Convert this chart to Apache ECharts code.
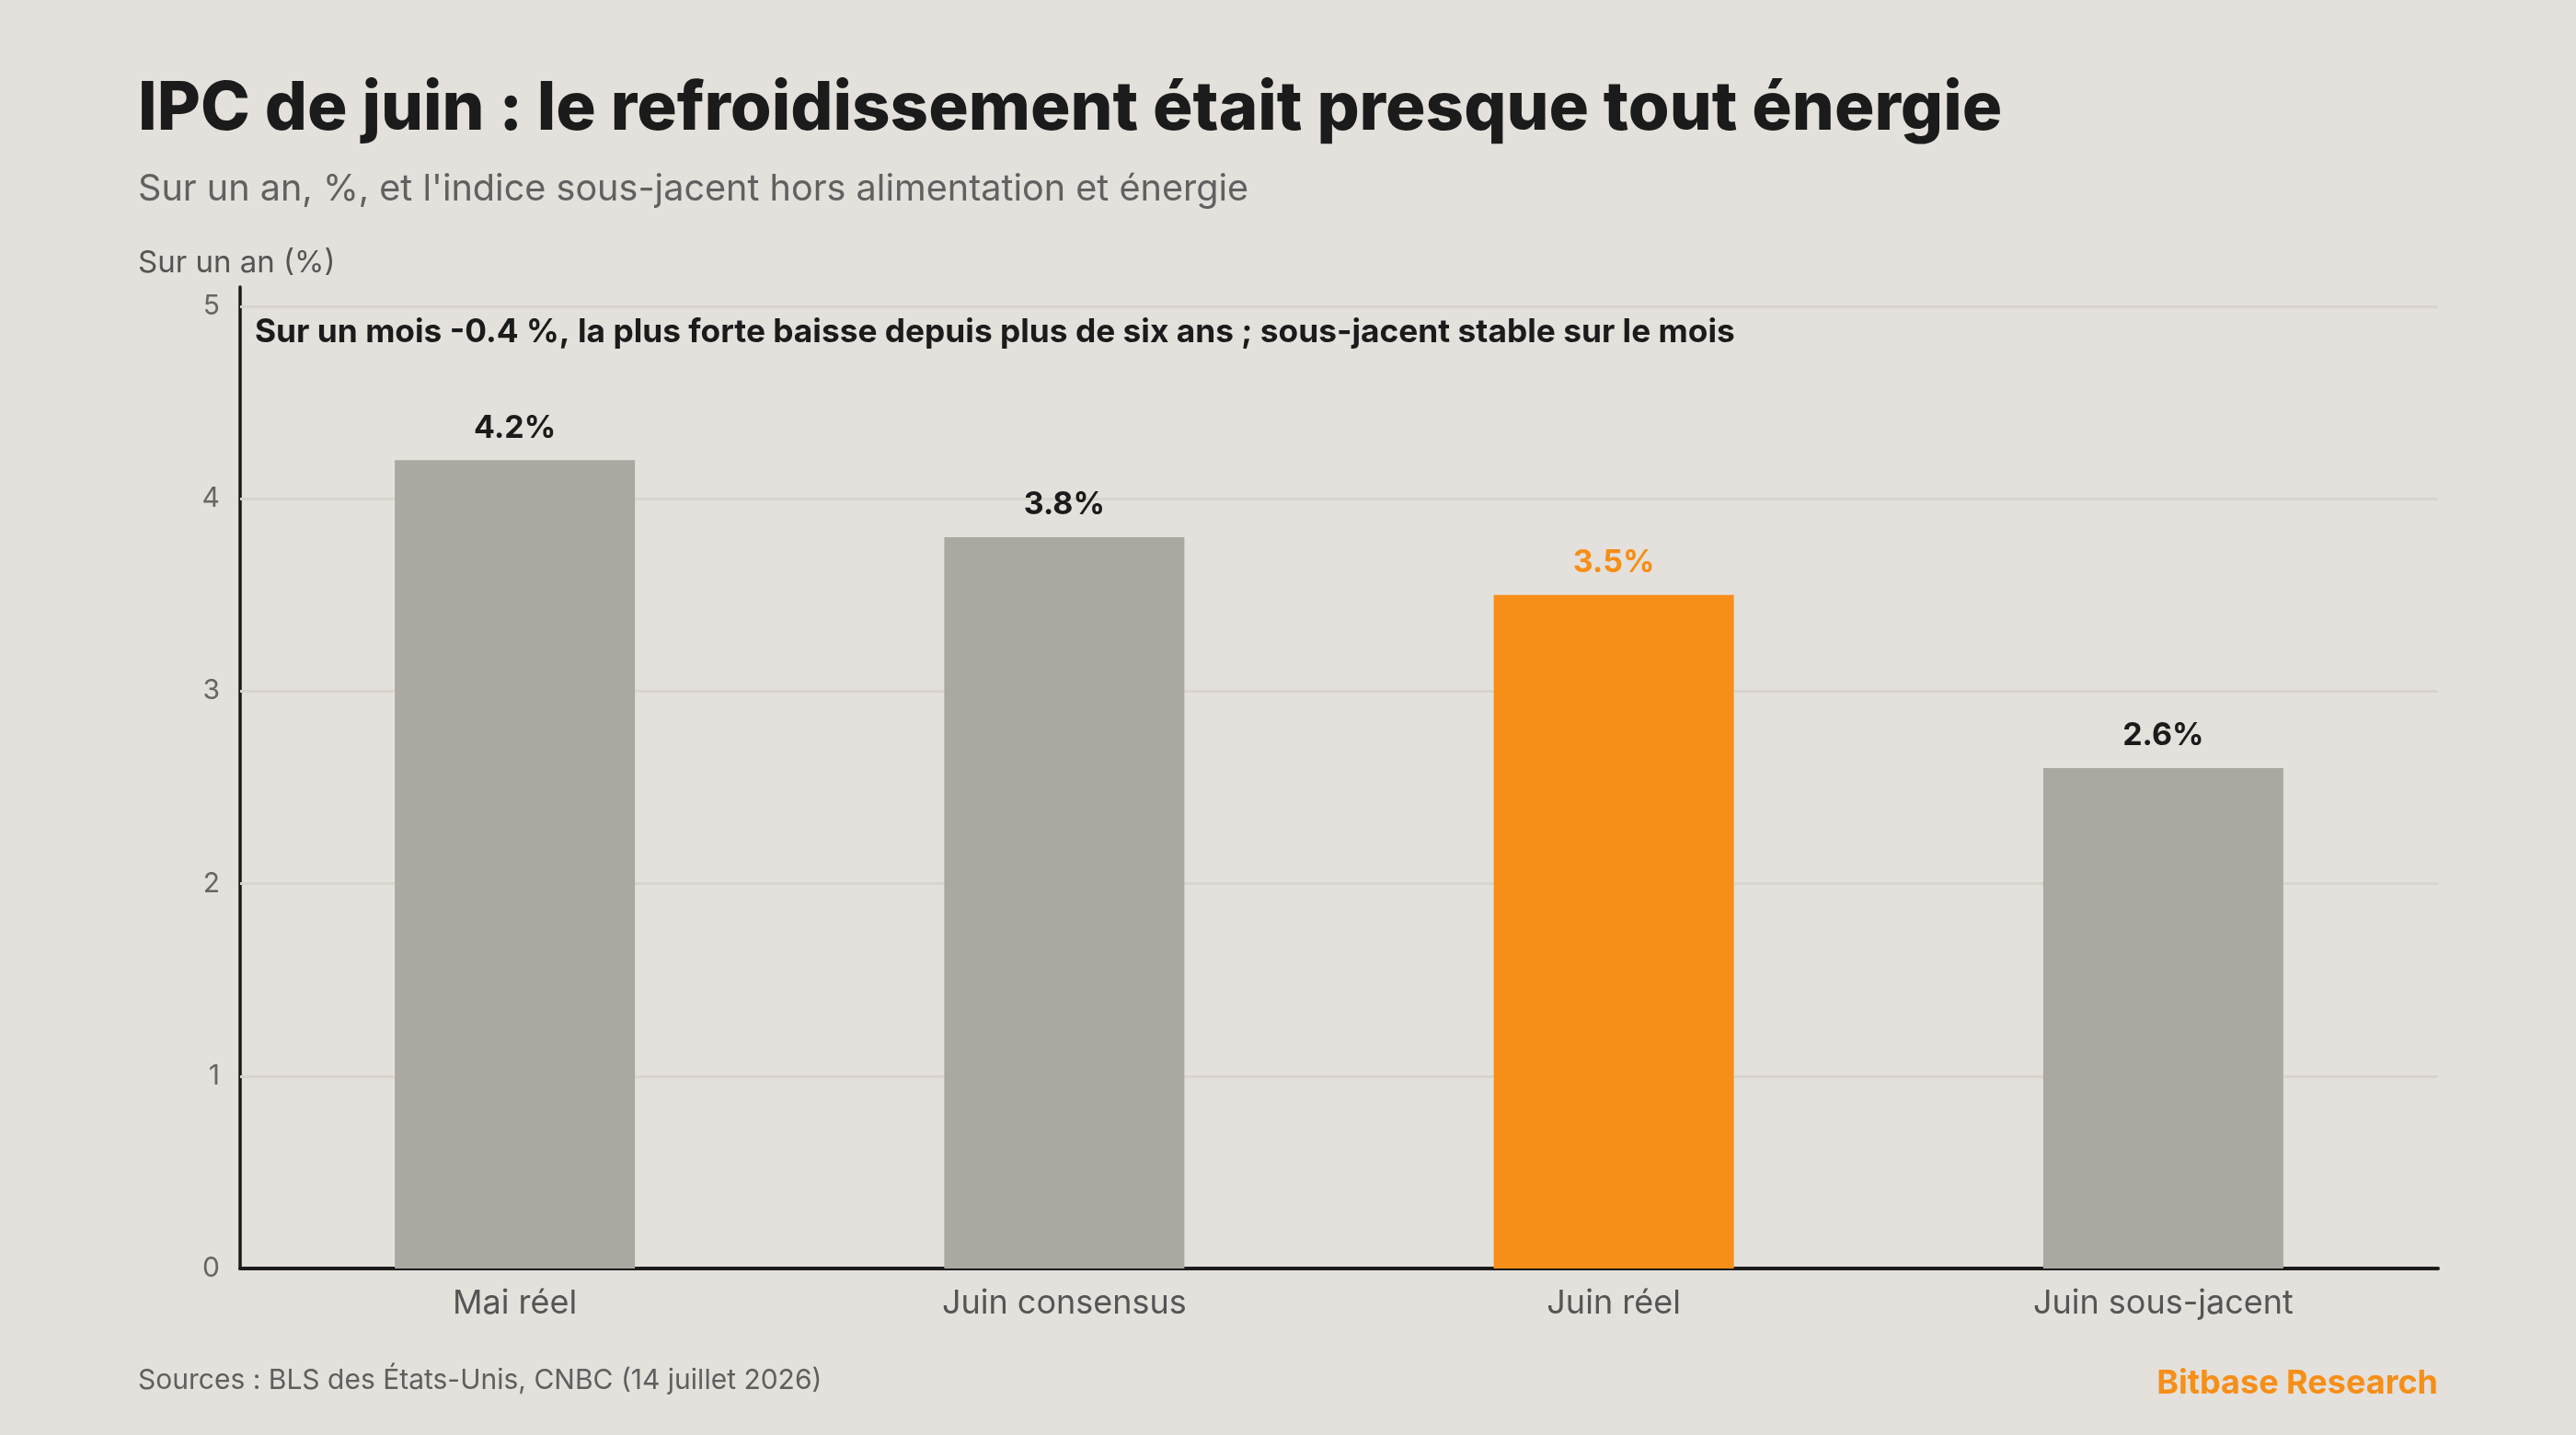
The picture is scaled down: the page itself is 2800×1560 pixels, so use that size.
<!DOCTYPE html>
<html>
<head>
<meta charset="utf-8">
<script src="https://cdn.jsdelivr.net/npm/echarts@6/dist/echarts.min.js"></script>
<style>
html,body{margin:0;padding:0;background:#e4e0db;}
#chart{width:2800px;height:1560px;}
</style>
</head>
<body>
<div id="chart"></div>
<script>
const categories = ['Mai réel', 'Juin consensus', 'Juin réel', 'Juin sous-jacent'];
const values = [4.2, 3.8, 3.5, 2.6];
const highlighted = [false, false, true, false];
const yTicks = [1, 2, 3, 4, 5];

const FONT = 'Inter, "Noto Sans", sans-serif';
const GREY = '#aba7a1';
const ORANGE = '#f68f18';
const DARK = '#1b1b1b';

const chart = echarts.init(document.getElementById('chart'));
chart.setOption({
  backgroundColor: '#e4e0db',
  textStyle: { fontFamily: FONT },
  title: [
    { text: 'IPC de juin : le refroidissement était presque tout énergie', left: 150, top: 83, padding: 0,
      textStyle: { fontFamily: FONT, fontSize: 72.5, fontWeight: 800, color: DARK } },
    { text: "Sur un an, %, et l'indice sous-jacent hors alimentation et énergie", left: 150, top: 186, padding: 0,
      textStyle: { fontFamily: FONT, fontSize: 39.6, fontWeight: 400, color: '#626060' } },
    { text: 'Sur un an (%)', left: 150, top: 270, padding: 0,
      textStyle: { fontFamily: FONT, fontSize: 33, fontWeight: 400, color: '#555' } },
    { text: 'Sur un mois -0.4 %, la plus forte baisse depuis plus de six ans ; sous-jacent stable sur le mois', left: 277, top: 344, padding: 0,
      textStyle: { fontFamily: FONT, fontSize: 35.3, fontWeight: 700, color: DARK } },
    { text: 'Sources : BLS des États-Unis, CNBC (14 juillet 2026)', left: 150, top: 1486, padding: 0,
      textStyle: { fontFamily: FONT, fontSize: 30, fontWeight: 400, color: '#5f5f5f' } },
    { text: 'Bitbase Research', right: 150, top: 1486, padding: 0,
      textStyle: { fontFamily: FONT, fontSize: 36, fontWeight: 700, color: ORANGE } }
  ],
  grid: { left: 261, right: 150, top: 312, bottom: 181, containLabel: false },
  xAxis: {
    type: 'category',
    data: categories,
    axisLine: { show: true, lineStyle: { color: DARK, width: 4 } },
    axisTick: { show: false },
    axisLabel: { fontFamily: FONT, fontSize: 36, color: '#555', margin: 20 }
  },
  yAxis: {
    type: 'value',
    min: 0, max: 5.1, interval: 1,
    axisLine: { show: true, lineStyle: { color: DARK, width: 3.5 } },
    axisTick: { show: false },
    splitLine: { show: false },
    axisLabel: { fontFamily: FONT, fontSize: 30, color: '#666', margin: 22, showMaxLabel: false }
  },
  series: [
    {
      type: 'line',
      data: [],
      z: 1,
      silent: true,
      markLine: {
        silent: true,
        z: 1,
        symbol: 'none',
        label: { show: false },
        lineStyle: { color: '#d8d4ce', width: 3, type: 'solid' },
        data: yTicks.map(v => ({ yAxis: v }))
      }
    },
    {
      type: 'bar',
      z: 3,
      barWidth: '43.7%',
      data: values.map((v, i) => ({
        value: v,
        itemStyle: { color: highlighted[i] ? ORANGE : GREY },
        label: { color: highlighted[i] ? ORANGE : DARK }
      })),
      label: {
        show: true,
        position: 'top',
        distance: 18,
        fontFamily: FONT,
        fontSize: 34,
        fontWeight: 700,
        formatter: p => p.value.toFixed(1) + '%'
      }
    }
  ]
});
</script>
</body>
</html>
